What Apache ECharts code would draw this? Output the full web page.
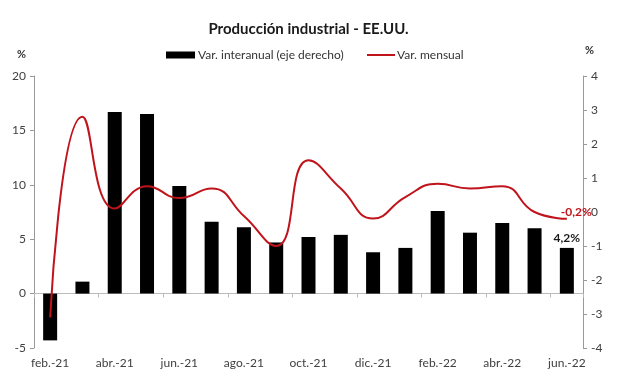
<!DOCTYPE html>
<html><head><meta charset="utf-8">
<script src="https://cdn.jsdelivr.net/npm/echarts@6/dist/echarts.min.js"></script>
<style>html,body{margin:0;padding:0;background:#fff}#c{width:617px;height:392px}</style>
</head><body><div id="c"></div>
<script>
const categories = ['feb.-21','mar.-21','abr.-21','may.-21','jun.-21','jul.-21','ago.-21','sep.-21','oct.-21','nov.-21','dic.-21','ene.-22','feb.-22','mar.-22','abr.-22','may.-22','jun.-22'];
const interanual = [-4.3, 1.1, 16.7, 16.5, 9.9, 6.6, 6.1, 4.7, 5.2, 5.4, 3.8, 4.2, 7.6, 5.6, 6.5, 6.0, 4.2];
const mensual = [-3.1, 2.8, 0.1, 0.76, 0.41, 0.69, -0.12, -1.0, 1.52, 0.69, -0.19, 0.44, 0.83, 0.69, 0.76, 0.0, -0.2];
const leftTicks = {min: -5, max: 20, interval: 5};
const rightTicks = {min: -4, max: 4, interval: 1};
const FONT = 'Lato';
const last = categories.length - 1;
const fmt = (v) => String(v).replace('.', ',') + '%';

const chart = echarts.init(document.getElementById('c'));
chart.setOption({
  animation: false,
  textStyle: {fontFamily: FONT},
  title: {text: 'Producción industrial - EE.UU.', left: 'center', top: 17,
    textStyle: {fontFamily: FONT, fontSize: 15, fontWeight: 'bold', color: '#1a1a1a'}},
  legend: [
    {left: 166, top: 49, padding: 0, itemWidth: 29, itemHeight: 7,
      textStyle: {fontFamily: FONT, fontSize: 12, color: '#333', padding: [0, 0, 0, -2]},
      data: [{name: 'Var. interanual (eje derecho)', icon: 'rect'}]},
    {left: 367, top: 49, padding: 0, itemWidth: 28, itemHeight: 2,
      textStyle: {fontFamily: FONT, fontSize: 12, color: '#333', padding: [0, 0, 0, -3]},
      data: [{name: 'Var. mensual', icon: 'rect'}]}
  ],
  graphic: [
    {type: 'text', left: 17, top: 49, style: {text: '%', font: 'bold 11px Lato', fill: '#333'}},
    {type: 'text', left: 585, top: 45, style: {text: '%', font: 'bold 11px Lato', fill: '#333'}}
  ],
  grid: {left: 34, right: 34, top: 76, bottom: 44},
  xAxis: [
    {type: 'category', data: categories, position: 'bottom',
      axisLine: {onZero: true, onZeroAxisIndex: 0, lineStyle: {color: '#bbb'}},
      axisTick: {show: true, interval: 1, length: 4, lineStyle: {color: '#bbb'}},
      axisLabel: {show: false}},
    {type: 'category', data: categories, position: 'bottom',
      axisLine: {show: false, onZero: false}, axisTick: {show: false},
      axisLabel: {interval: 1, margin: 9, fontSize: 12, color: '#404040', fontFamily: FONT}}
  ],
  yAxis: [
    {type: 'value', position: 'left', min: leftTicks.min, max: leftTicks.max, interval: leftTicks.interval,
      splitLine: {show: false},
      axisLine: {show: true, lineStyle: {color: '#999'}},
      axisTick: {show: true, length: 4, lineStyle: {color: '#999'}},
      axisLabel: {fontSize: 12, color: '#404040', margin: 8, fontFamily: FONT}},
    {type: 'value', position: 'right', min: rightTicks.min, max: rightTicks.max, interval: rightTicks.interval,
      splitLine: {show: false},
      axisLine: {show: true, lineStyle: {color: '#999'}},
      axisTick: {show: true, length: 4, lineStyle: {color: '#999'}},
      axisLabel: {fontSize: 12, color: '#404040', margin: 8, fontFamily: FONT}}
  ],
  series: [
    {name: 'Var. interanual (eje derecho)', type: 'bar', xAxisIndex: 0, yAxisIndex: 0,
      data: interanual.map((v, i) => i === last ? {value: v, label: {show: true, position: 'top', distance: 4,
        formatter: (p) => fmt(p.value), fontWeight: 'bold', fontSize: 12, color: '#1a1a1a', fontFamily: FONT}} : v),
      barWidth: 14, itemStyle: {color: '#000'}},
    {name: 'Var. mensual', type: 'line', xAxisIndex: 0, yAxisIndex: 1, smooth: 0.5,
      data: mensual, symbol: 'none',
      endLabel: {show: true, distance: 5, offset: [-11, -7], formatter: (p) => fmt(p.value),
        fontWeight: 'bold', fontSize: 12, color: '#c0141c', fontFamily: FONT},
      lineStyle: {color: '#c0141c', width: 2}, itemStyle: {color: '#c0141c'}, z: 5}
  ]
});
</script></body></html>
